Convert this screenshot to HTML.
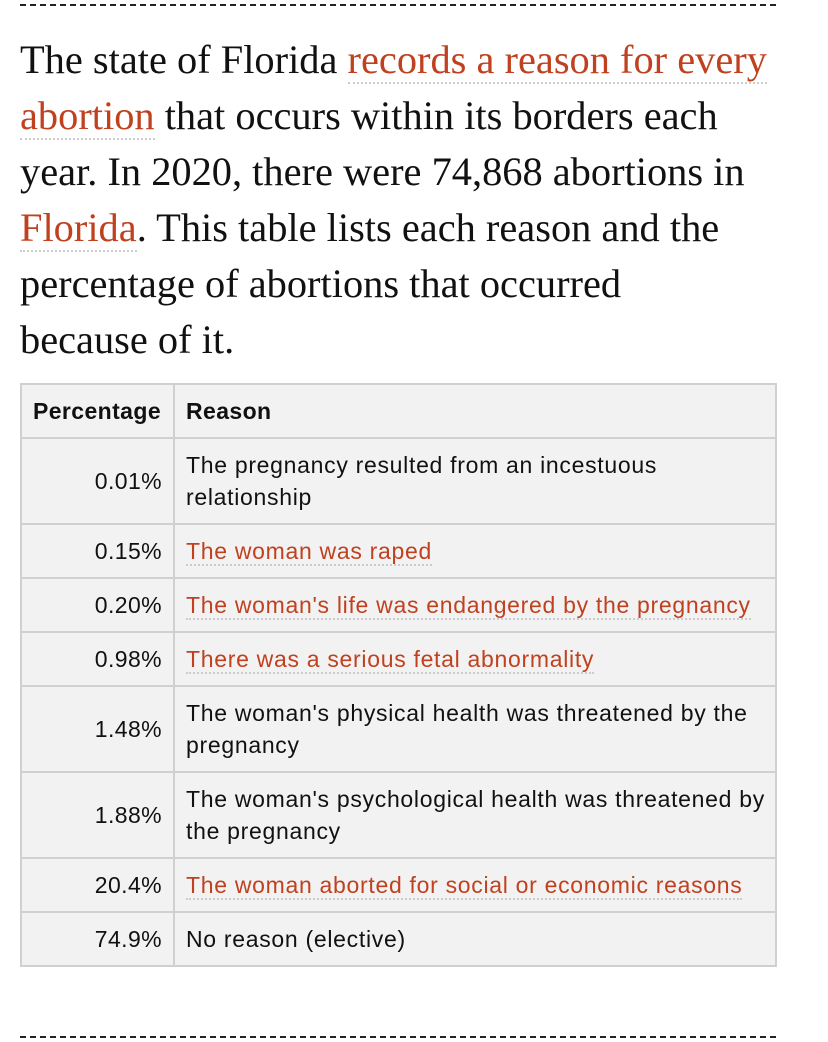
<!DOCTYPE html>
<html><head><meta charset="utf-8"><style>
body{margin:0;width:828px;height:1042px;background:#fff;position:relative;overflow:hidden}
.dash{position:absolute;left:20px;width:756px;border-top:2px dashed #222}
p{position:absolute;left:20px;top:32px;width:820px;margin:0;font-family:"Liberation Serif",serif;font-size:40.4px;line-height:56px;color:#111;letter-spacing:0px;white-space:nowrap}
a{color:#c0411f;text-decoration:none;border-bottom:2px dotted #ccc}
table{position:absolute;left:20px;top:383px;width:757px;table-layout:fixed;border-collapse:collapse;font-family:"Liberation Sans",sans-serif;font-size:23px;letter-spacing:0.7px;line-height:32px;color:#111;background:#f2f2f2}
td,th{border:2px solid #d0d0d0;padding:0 11px;vertical-align:middle;white-space:nowrap;overflow:hidden}
th{text-align:left;height:52px;letter-spacing:0.4px}
td.p{text-align:right;letter-spacing:0.4px}
tr.s td{height:52px}
tr.d td{height:84px}
td a{border-bottom:2px dotted #ccc}
</style></head><body>
<div class="dash" style="top:4px"></div>
<p>The state of Florida <a>records a reason for every</a><br><a>abortion</a> that occurs within its borders each<br>year. In 2020, there were 74,868 abortions in<br><a>Florida</a>. This table lists each reason and the<br>percentage of abortions that occurred<br>because of it.</p>
<table>
<colgroup><col style="width:153px"><col></colgroup>
<tr><th>Percentage</th><th>Reason</th></tr>
<tr class="d"><td class="p">0.01%</td><td>The pregnancy resulted from an incestuous<br>relationship</td></tr>
<tr class="s"><td class="p">0.15%</td><td><a>The woman was raped</a></td></tr>
<tr class="s"><td class="p">0.20%</td><td><a>The woman's life was endangered by the pregnancy</a></td></tr>
<tr class="s"><td class="p">0.98%</td><td><a>There was a serious fetal abnormality</a></td></tr>
<tr class="d"><td class="p">1.48%</td><td>The woman's physical health was threatened by the<br>pregnancy</td></tr>
<tr class="d"><td class="p">1.88%</td><td>The woman's psychological health was threatened by<br>the pregnancy</td></tr>
<tr class="s"><td class="p">20.4%</td><td><a>The woman aborted for social or economic reasons</a></td></tr>
<tr class="s"><td class="p">74.9%</td><td>No reason (elective)</td></tr>
</table>
<div class="dash" style="top:1036px"></div>
</body></html>
